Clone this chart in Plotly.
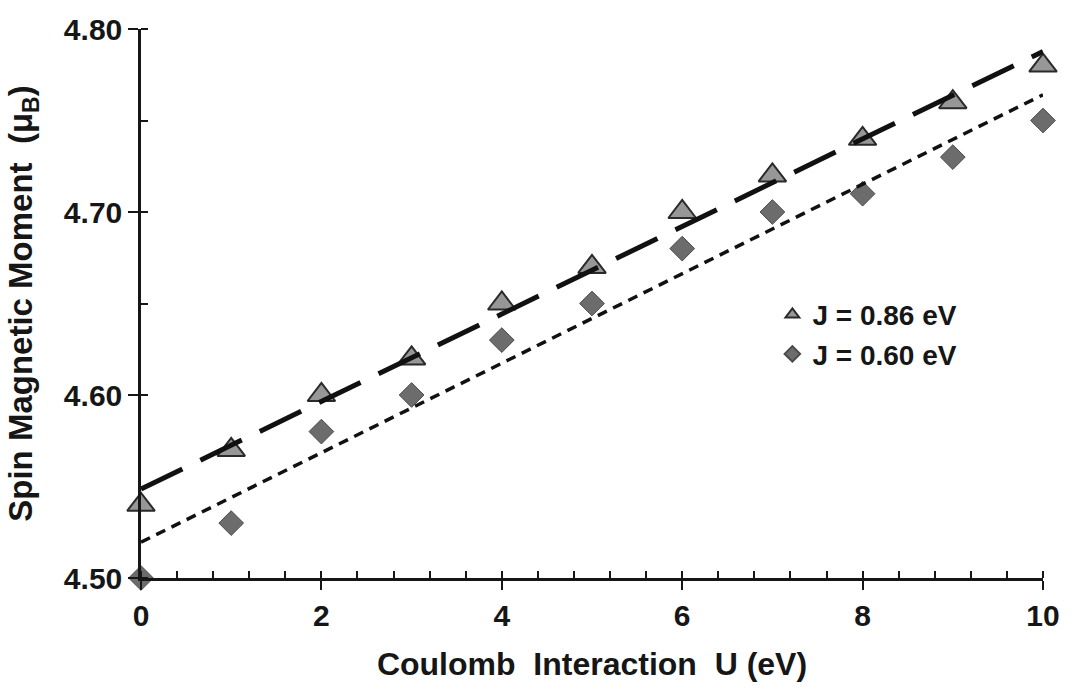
import numpy as np
import plotly.graph_objects as go

# ---- data ----
U = [0, 1, 2, 3, 4, 5, 6, 7, 8, 9, 10]
m_J086 = [4.54, 4.57, 4.60, 4.62, 4.65, 4.67, 4.70, 4.72, 4.74, 4.76, 4.78]
m_J060 = [4.50, 4.53, 4.58, 4.60, 4.63, 4.65, 4.68, 4.70, 4.71, 4.73, 4.75]
series_names = ["J = 0.86 eV", "J = 0.60 eV"]
x_ticks = [0, 2, 4, 6, 8, 10]
y_ticks = [4.50, 4.60, 4.70, 4.80]
y_ticklabels = ["4.50", "4.60", "4.70", "4.80"]

# linear trendlines (least squares, as in the source chart)
fit086 = np.polyfit(U, m_J086, 1)
fit060 = np.polyfit(U, m_J060, 1)
x_fit = np.array([U[0], U[-1]], dtype=float)

INK = "#161616"
FONT = "Liberation Sans"

fig = go.Figure()

fig.add_trace(go.Scatter(
    x=U, y=m_J086, mode="markers", name=series_names[0],
    marker=dict(symbol="triangle-up", size=24, color="#979797",
                line=dict(color="#2a2a2a", width=2)),
    cliponaxis=False,
))
fig.add_trace(go.Scatter(
    x=U, y=m_J060, mode="markers", name=series_names[1],
    marker=dict(symbol="diamond", size=19, color="#6c6c6c",
                line=dict(color="#4a4a4a", width=1)),
    cliponaxis=False,
))
fig.add_trace(go.Scatter(
    x=x_fit, y=np.polyval(fit086, x_fit), mode="lines", showlegend=False,
    line=dict(color="#111111", width=5, dash="46px,20px"),
    cliponaxis=False, hoverinfo="skip",
))
fig.add_trace(go.Scatter(
    x=x_fit, y=np.polyval(fit060, x_fit), mode="lines", showlegend=False,
    line=dict(color="#111111", width=3.5, dash="10px,7px"),
    cliponaxis=False, hoverinfo="skip",
))

fig.update_layout(
    width=1072, height=697,
    margin=dict(l=141, r=23, t=23, b=119),
    paper_bgcolor="white", plot_bgcolor="white",
    font=dict(family=FONT, size=30, color=INK, weight="bold"),
    showlegend=True,
    legend=dict(
        x=0.70, y=0.525, xanchor="left", yanchor="top",
        font=dict(family=FONT, size=28, color=INK, weight="bold"),
        bgcolor="rgba(0,0,0,0)", itemsizing="constant", itemwidth=30,
        tracegroupgap=0,
    ),
    xaxis=dict(
        range=[0, 10], tickmode="array", tickvals=x_ticks,
        ticks="outside", ticklen=9, tickwidth=2, tickcolor=INK,
        showline=True, linewidth=2.5, linecolor=INK,
        showgrid=False, zeroline=False,
        minor=dict(dtick=0.4, tick0=0, ticks="inside", ticklen=7,
                   tickwidth=1.5, tickcolor=INK, showgrid=False),
        tickfont=dict(size=30),
        title=dict(text="Coulomb  Interaction  U (eV)", standoff=22,
                   font=dict(size=32)),
    ),
    yaxis=dict(
        range=[4.50, 4.80], tickmode="array", tickvals=y_ticks,
        ticktext=y_ticklabels,
        ticks="outside", ticklen=10, tickwidth=2, tickcolor=INK,
        showline=True, linewidth=2.5, linecolor=INK,
        showgrid=False, zeroline=False,
        minor=dict(dtick=0.05, tick0=4.5, ticks="inside", ticklen=7,
                   tickwidth=1.5, tickcolor=INK, showgrid=False),
        tickfont=dict(size=30),
        title=dict(text="Spin Magnetic Moment  (\u03bc<sub>B</sub>)",
                   standoff=22, font=dict(size=33)),
    ),
    xaxis2=dict(
        range=[0, 10], overlaying="x", anchor="y", side="bottom",
        tickmode="array", tickvals=x_ticks, ticks="inside", ticklen=8,
        tickwidth=2, tickcolor=INK, showticklabels=False,
        showline=False, showgrid=False, zeroline=False,
    ),
    yaxis2=dict(
        range=[4.50, 4.80], overlaying="y", anchor="x", side="left",
        tickmode="array", tickvals=y_ticks, ticks="inside", ticklen=6,
        tickwidth=2, tickcolor=INK, showticklabels=False,
        showline=False, showgrid=False, zeroline=False,
    ),
)

fig.write_html("out.html")
